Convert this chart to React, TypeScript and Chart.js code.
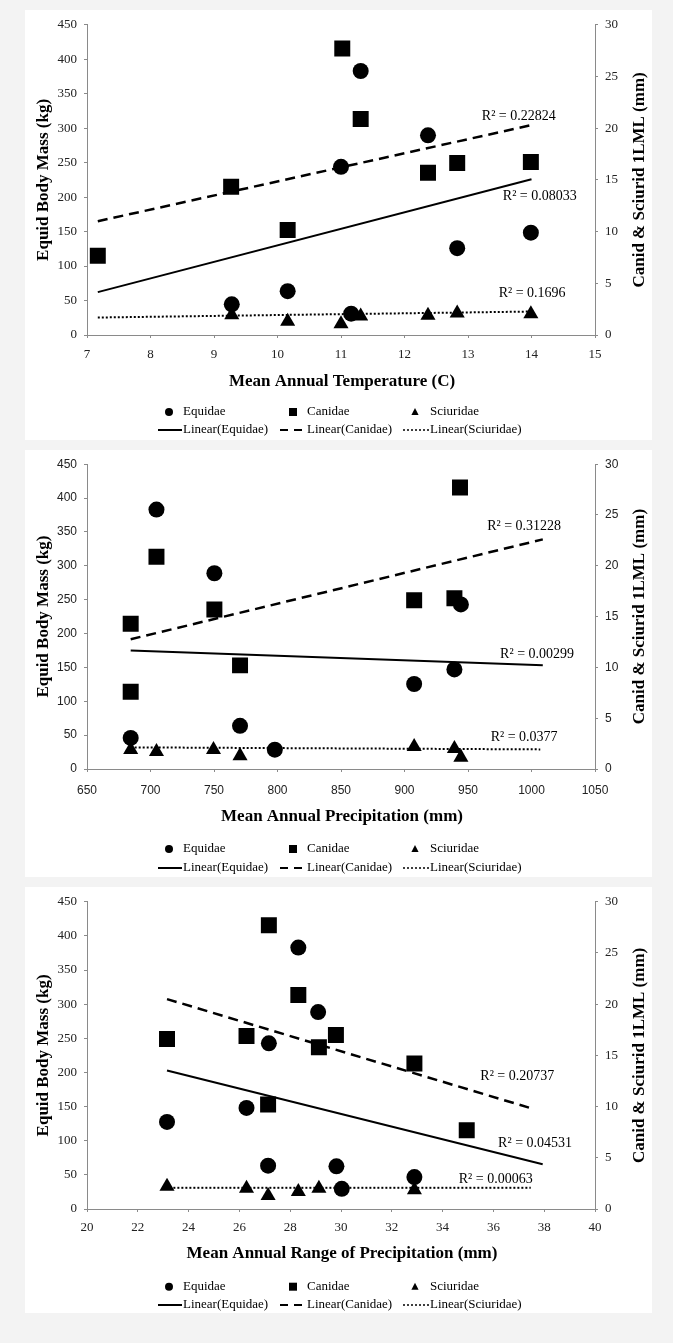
import React, { useEffect, useRef } from "react";
import { Chart, registerables } from "chart.js";

Chart.register(...registerables);

type P = { x: number; y: number };

// ---------- Panel 1: Mean Annual Temperature (C) ----------
const matEquidae: P[] = [
  { x: 9.28, y: 44.5 }, { x: 10.16, y: 63.6 }, { x: 11.0, y: 244 }, { x: 11.16, y: 31 },
  { x: 11.31, y: 383 }, { x: 12.37, y: 289.7 }, { x: 12.83, y: 126 }, { x: 13.99, y: 148.4 },
];
const matCanidae: P[] = [
  { x: 7.17, y: 7.66 }, { x: 9.27, y: 14.33 }, { x: 10.16, y: 10.15 }, { x: 11.02, y: 27.7 },
  { x: 11.31, y: 20.9 }, { x: 12.37, y: 15.7 }, { x: 12.83, y: 16.63 }, { x: 13.99, y: 16.73 },
];
const matSciuridae: P[] = [
  { x: 9.28, y: 1.94 }, { x: 10.16, y: 1.31 }, { x: 11.0, y: 1.08 }, { x: 11.31, y: 1.82 },
  { x: 12.37, y: 1.89 }, { x: 12.83, y: 2.11 }, { x: 13.99, y: 2.04 },
];
const matEquidaeTrend: P[] = [{ x: 7.17, y: 62.2 }, { x: 14, y: 226 }];
const matCanidaeTrend: P[] = [{ x: 7.17, y: 11.0 }, { x: 14, y: 20.3 }];
const matSciuridaeTrend: P[] = [{ x: 7.17, y: 1.69 }, { x: 14, y: 2.27 }];
const matR2: string[] = ["R² = 0.22824", "R² = 0.08033", "R² = 0.1696"];

// ---------- Panel 2: Mean Annual Precipitation (mm) ----------
const mapEquidae: P[] = [
  { x: 684.4, y: 45.9 }, { x: 704.7, y: 383 }, { x: 750.3, y: 289 }, { x: 770.5, y: 63.7 },
  { x: 797.9, y: 28.5 }, { x: 907.6, y: 125.5 }, { x: 939.3, y: 147 }, { x: 944.4, y: 243 },
];
const mapCanidae: P[] = [
  { x: 684.4, y: 7.6 }, { x: 684.4, y: 14.3 }, { x: 704.7, y: 20.9 }, { x: 750.3, y: 15.7 },
  { x: 770.5, y: 10.2 }, { x: 907.6, y: 16.6 }, { x: 939.3, y: 16.8 }, { x: 943.7, y: 27.7 },
];
const mapSciuridae: P[] = [
  { x: 684.4, y: 1.9 }, { x: 704.7, y: 1.7 }, { x: 749.6, y: 1.9 }, { x: 770.5, y: 1.3 },
  { x: 907.6, y: 2.2 }, { x: 939.3, y: 2.0 }, { x: 944.4, y: 1.15 },
];
const mapEquidaeTrend: P[] = [{ x: 684.4, y: 174.8 }, { x: 1008.9, y: 153 }];
const mapCanidaeTrend: P[] = [{ x: 684.4, y: 12.77 }, { x: 1008.9, y: 22.6 }];
const mapSciuridaeTrend: P[] = [{ x: 684.4, y: 2.13 }, { x: 1006.9, y: 1.93 }];
const mapR2: string[] = ["R² = 0.31228", "R² = 0.00299", "R² = 0.0377"];

// ---------- Panel 3: Mean Annual Range of Precipitation (mm) ----------
const marpEquidae: P[] = [
  { x: 23.15, y: 127.5 }, { x: 26.28, y: 148 }, { x: 27.13, y: 63.5 }, { x: 27.16, y: 242.7 },
  { x: 28.32, y: 383 }, { x: 29.1, y: 288.5 }, { x: 29.82, y: 62.5 }, { x: 30.03, y: 29.6 },
  { x: 32.89, y: 46.8 },
];
const marpCanidae: P[] = [
  { x: 23.15, y: 16.6 }, { x: 26.28, y: 16.9 }, { x: 27.13, y: 10.2 }, { x: 27.16, y: 27.7 },
  { x: 28.32, y: 20.9 }, { x: 29.13, y: 15.8 }, { x: 29.8, y: 17.0 }, { x: 32.89, y: 14.2 },
  { x: 34.95, y: 7.7 },
];
const marpSciuridae: P[] = [
  { x: 23.15, y: 2.2 }, { x: 26.28, y: 2.0 }, { x: 27.13, y: 1.3 }, { x: 28.32, y: 1.7 },
  { x: 29.13, y: 2.0 }, { x: 32.89, y: 1.87 },
];
const marpEquidaeTrend: P[] = [{ x: 23.15, y: 203 }, { x: 37.94, y: 65.5 }];
const marpCanidaeTrend: P[] = [{ x: 23.15, y: 20.5 }, { x: 37.4, y: 9.9 }];
const marpSciuridaeTrend: P[] = [{ x: 23.4, y: 2.07 }, { x: 37.47, y: 2.07 }];
const marpR2: string[] = ["R² = 0.20737", "R² = 0.04531", "R² = 0.00063"];

// ---------- shared axis / legend text ----------
const leftTitle = "Equid Body Mass (kg)";
const rightTitle = "Canid & Sciurid 1LML (mm)";
const seriesNames = ["Equidae", "Canidae", "Sciuridae"];
const trendNames = ["Linear(Equidae)", "Linear(Canidae)", "Linear(Sciuridae)"];

const SERIF = '"Liberation Serif", "Times New Roman", serif';
const SANS = '"Liberation Sans", Arial, sans-serif';

type PanelCfg = {
  top: number;
  height: number;
  chartTop: number;
  chartBottom: number;
  xMin: number;
  xMax: number;
  xStep: number;
  xTitle: string;
  tickFamily: string;
  tickSize: number;
  xTickPad: number;
  xTitleY: number;
  legendY1: number;
  legendY2: number;
  equ: P[];
  can: P[];
  sci: P[];
  equT: P[];
  canT: P[];
  sciT: P[];
  r2: string[];
  r2Pos: { x: number; y: number }[];
};

const panels: PanelCfg[] = [
  {
    top: 10, height: 430, chartTop: 11.7, chartBottom: 325,
    xMin: 7, xMax: 15, xStep: 1, xTitle: "Mean Annual Temperature (C)",
    tickFamily: SERIF, tickSize: 13, xTickPad: 9, xTitleY: 372, legendY1: 402, legendY2: 420,
    equ: matEquidae, can: matCanidae, sci: matSciuridae,
    equT: matEquidaeTrend, canT: matCanidaeTrend, sciT: matSciuridaeTrend,
    r2: matR2,
    r2Pos: [{ x: 13.8, y: 317 }, { x: 14.13, y: 201 }, { x: 14.01, y: 61 }],
  },
  {
    top: 450, height: 427, chartTop: 8.3, chartBottom: 319,
    xMin: 650, xMax: 1050, xStep: 50, xTitle: "Mean Annual Precipitation (mm)",
    tickFamily: SANS, tickSize: 12, xTickPad: 11, xTitleY: 366.7, legendY1: 399, legendY2: 418,
    equ: mapEquidae, can: mapCanidae, sci: mapSciuridae,
    equT: mapEquidaeTrend, canT: mapCanidaeTrend, sciT: mapSciuridaeTrend,
    r2: mapR2,
    r2Pos: [{ x: 994.2, y: 358 }, { x: 1004.4, y: 170 }, { x: 994.2, y: 47 }],
  },
  {
    top: 887, height: 426, chartTop: 8, chartBottom: 322,
    xMin: 20, xMax: 40, xStep: 2, xTitle: "Mean Annual Range of Precipitation (mm)",
    tickFamily: SERIF, tickSize: 13, xTickPad: 8, xTitleY: 367, legendY1: 399.7, legendY2: 418,
    equ: marpEquidae, can: marpCanidae, sci: marpSciuridae,
    equT: marpEquidaeTrend, canT: marpCanidaeTrend, sciT: marpSciuridaeTrend,
    r2: marpR2,
    r2Pos: [{ x: 36.94, y: 195 }, { x: 37.64, y: 96 }, { x: 36.09, y: 43 }],
  },
];

const PANEL_LEFT = 25;
const PANEL_W = 627;
const CHART_LEFT = 62;
const CHART_RIGHT = 570;

const plainTick = (v: any) => String(v);

const decorPlugin = {
  id: "decor",
  afterDraw(chart: any) {
    const o = chart.options.plugins.decor as PanelCfg | undefined;
    if (!o) return;
    const ctx: CanvasRenderingContext2D = chart.ctx;
    const ca = chart.chartArea;
    const xs = chart.scales.x;
    const yl = chart.scales.y;
    ctx.save();
    ctx.fillStyle = "#000";
    ctx.textAlign = "center";
    ctx.textBaseline = "middle";

    const midY = (ca.top + ca.bottom) / 2;
    ctx.font = `bold 17px ${SERIF}`;
    ctx.save();
    ctx.translate(18.5, midY);
    ctx.rotate(-Math.PI / 2);
    ctx.fillText(leftTitle, 0, 0);
    ctx.restore();
    ctx.save();
    ctx.translate(614.5, midY);
    ctx.rotate(-Math.PI / 2);
    ctx.fillText(rightTitle, 0, 0);
    ctx.restore();

    ctx.fillText(o.xTitle, (ca.left + ca.right) / 2 + 1, o.xTitleY);

    // R² labels
    ctx.font = `14px ${SERIF}`;
    o.r2.forEach((t, i) => {
      const p = o.r2Pos[i];
      ctx.fillText(t, xs.getPixelForValue(p.x), yl.getPixelForValue(p.y));
    });

    // legend
    ctx.font = `13px ${SERIF}`;
    ctx.textAlign = "left";
    const mx = [144, 268, 390];
    const tx = [158, 282, 405];
    const y1 = o.legendY1;
    const y2 = o.legendY2;
    ctx.beginPath();
    ctx.arc(mx[0], y1, 4, 0, Math.PI * 2);
    ctx.fill();
    ctx.fillRect(mx[1] - 4, y1 - 4, 8, 8);
    ctx.beginPath();
    ctx.moveTo(mx[2], y1 - 4);
    ctx.lineTo(mx[2] + 3.6, y1 + 3);
    ctx.lineTo(mx[2] - 3.6, y1 + 3);
    ctx.closePath();
    ctx.fill();
    seriesNames.forEach((n, i) => ctx.fillText(n, tx[i], y1));
    ctx.strokeStyle = "#000";
    ctx.lineWidth = 2;
    ctx.setLineDash([]);
    ctx.beginPath();
    ctx.moveTo(133, y2);
    ctx.lineTo(157, y2);
    ctx.stroke();
    ctx.setLineDash([8, 6]);
    ctx.beginPath();
    ctx.moveTo(255, y2);
    ctx.lineTo(278, y2);
    ctx.stroke();
    ctx.setLineDash([2, 2]);
    ctx.lineWidth = 1.5;
    ctx.beginPath();
    ctx.moveTo(378, y2);
    ctx.lineTo(404, y2);
    ctx.stroke();
    ctx.setLineDash([]);
    trendNames.forEach((n, i) => ctx.fillText(n, tx[i], y2));
    ctx.restore();
  },
};

function Panel({ cfg }: { cfg: PanelCfg }) {
  const ref = useRef<HTMLCanvasElement | null>(null);
  useEffect(() => {
    if (!ref.current) return;
    const tickFont = { family: cfg.tickFamily, size: cfg.tickSize };
    const axisGray = "#8a8a8a";
    const chart = new Chart(ref.current, {
      type: "scatter",
      data: {
        datasets: [
          {
            label: "Equidae", data: cfg.equ, yAxisID: "y",
            pointStyle: "circle", pointRadius: 8, pointBackgroundColor: "#000",
            pointBorderWidth: 0, showLine: false,
          },
          {
            label: "Canidae", data: cfg.can, yAxisID: "y1",
            pointStyle: "rect", pointRadius: 11.3, pointBackgroundColor: "#000",
            pointBorderWidth: 0, showLine: false,
          },
          {
            label: "Sciuridae", data: cfg.sci, yAxisID: "y1",
            pointStyle: "triangle", pointRadius: 8.7, pointBackgroundColor: "#000",
            pointBorderWidth: 0, showLine: false,
          },
          {
            label: "Linear(Equidae)", data: cfg.equT, yAxisID: "y",
            showLine: true, pointRadius: 0, borderColor: "#000", borderWidth: 2,
          },
          {
            label: "Linear(Canidae)", data: cfg.canT, yAxisID: "y1",
            showLine: true, pointRadius: 0, borderColor: "#000", borderWidth: 2.5,
            borderDash: [10, 6],
          },
          {
            label: "Linear(Sciuridae)", data: cfg.sciT, yAxisID: "y1",
            showLine: true, pointRadius: 0, borderColor: "#000", borderWidth: 2,
            borderDash: [2, 2],
          },
        ] as any,
      },
      options: {
        animation: false,
        responsive: false,
        events: [],
        layout: { padding: { top: cfg.chartTop, bottom: 0, left: 0, right: 0 } },
        plugins: {
          legend: { display: false },
          tooltip: { enabled: false },
          decor: cfg,
        } as any,
        scales: {
          x: {
            type: "linear", min: cfg.xMin, max: cfg.xMax,
            ticks: {
              stepSize: cfg.xStep, autoSkip: false, maxRotation: 0, minRotation: 0,
              font: tickFont, color: "#222", padding: cfg.xTickPad, callback: plainTick,
            },
            grid: { drawOnChartArea: false, drawTicks: true, tickLength: 3, color: axisGray },
            border: { display: true, color: axisGray, width: 1 },
            afterFit: (s: any) => { s.height = cfg.height - cfg.chartBottom; },
          },
          y: {
            type: "linear", position: "left", min: 0, max: 450,
            ticks: { stepSize: 50, font: tickFont, color: "#222", padding: 7, callback: plainTick },
            grid: { drawOnChartArea: false, drawTicks: true, tickLength: 3, color: axisGray },
            border: { display: true, color: axisGray, width: 1 },
            afterFit: (s: any) => { s.width = CHART_LEFT; },
          },
          y1: {
            type: "linear", position: "right", min: 0, max: 30,
            ticks: { stepSize: 5, font: tickFont, color: "#222", padding: 7, callback: plainTick },
            grid: { drawOnChartArea: false, drawTicks: true, tickLength: 3, color: axisGray },
            border: { display: true, color: axisGray, width: 1 },
            afterFit: (s: any) => { s.width = PANEL_W - CHART_RIGHT; },
          },
        },
      } as any,
      plugins: [decorPlugin],
    });
    return () => chart.destroy();
  }, [cfg]);

  return (
    <div
      style={{
        position: "absolute",
        left: PANEL_LEFT,
        top: cfg.top,
        width: PANEL_W,
        height: cfg.height,
        background: "#ffffff",
      }}
    >
      <canvas ref={ref} width={PANEL_W} height={cfg.height} style={{ display: "block" }} />
    </div>
  );
}

export default function App() {
  return (
    <div
      style={{
        position: "absolute",
        left: 0,
        top: 0,
        width: 673,
        height: 1343,
        background: "#f3f3f3",
        overflow: "hidden",
      }}
    >
      {panels.map((p, i) => (
        <Panel key={i} cfg={p} />
      ))}
    </div>
  );
}
